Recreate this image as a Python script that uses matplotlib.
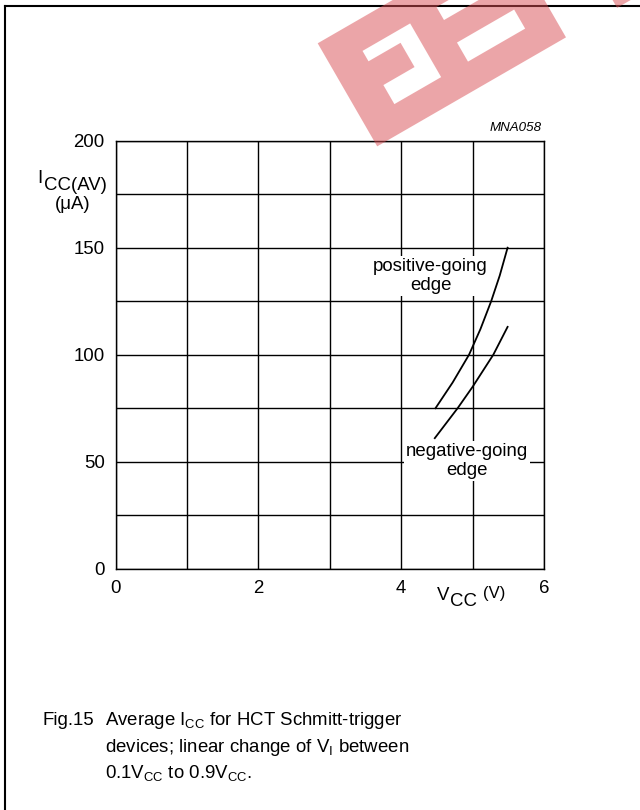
import numpy as np
import matplotlib
matplotlib.use("Agg")
import matplotlib.pyplot as plt
from matplotlib.path import Path
from matplotlib.patches import PathPatch
from matplotlib.lines import Line2D

plt.rcParams['font.family'] = ['Liberation Sans', 'DejaVu Sans']
plt.rcParams['mathtext.fontset'] = 'custom'
plt.rcParams['mathtext.rm'] = 'Liberation Sans'
plt.rcParams['mathtext.it'] = 'Liberation Sans:italic'
FS = 13.4

# supply current vs supply voltage
pos_vcc = [4.48, 4.72, 4.95, 5.11, 5.26, 5.38, 5.49]
pos_icc = [75, 87, 100, 112, 125, 137, 150]
neg_vcc = [4.47, 4.79, 5.00, 5.29, 5.49]
neg_icc = [61, 75, 85, 100, 113]

x_ticks = [0, 1, 2, 3, 4, 5, 6]
x_labels = ['0', '', '2', '', '4', '', '6']
y_ticks = [0, 25, 50, 75, 100, 125, 150, 175, 200]
y_labels = ['0', '', '50', '', '100', '', '150', '', '200']

W, H = 640, 810
fig = plt.figure(figsize=(W / 100, H / 100), dpi=100)


def px(x, y):
    return x / W, 1 - y / H


x0, y0 = px(115.7, 568.7)
x1, y1 = px(544.0, 140.7)
ax = fig.add_axes([x0, y0, x1 - x0, y1 - y0])
ax.set_xlim(0, 6)
ax.set_ylim(0, 200)
ax.set_xticks(x_ticks, x_labels, fontsize=FS)
ax.set_yticks(y_ticks, y_labels, fontsize=FS)
ax.tick_params(length=0, pad=8)
ax.tick_params(axis='y', pad=8)
ax.grid(True, color='black', lw=1.0)
for sp in ax.spines.values():
    sp.set_linewidth(1.0)

ax.plot(pos_vcc, pos_icc, color='black', lw=1.3, zorder=3)
ax.plot(neg_vcc, neg_icc, color='black', lw=1.3, zorder=3)

box = dict(facecolor='white', edgecolor='none', pad=1.5)
ax.text(4.41, 136.8, 'positive-going\nedge', ha='center', va='center',
        fontsize=FS, linespacing=1.12, bbox=box, zorder=4)
ax.text(4.92, 50.3, 'negative-going\nedge', ha='center', va='center',
        fontsize=FS, linespacing=1.12, bbox=box, zorder=4)

fig.text(*px(542, 128), 'MNA058', ha='right', va='center',
         fontsize=9.6, style='italic')

# axis titles, subscripts set at full size and dropped
fig.text(*px(37, 183), 'I', ha='left', va='baseline', fontsize=FS)
fig.text(*px(106.5, 190), 'CC(AV)', ha='right', va='baseline', fontsize=FS)
fig.text(*px(72.5, 209), '(μA)', ha='center', va='baseline', fontsize=FS)
fig.text(*px(436.5, 600), 'V', ha='left', va='baseline', fontsize=FS)
fig.text(*px(450, 606.5), 'CC', ha='left', va='baseline', fontsize=FS)
fig.text(*px(483, 598), '(V)', ha='left', va='baseline', fontsize=12)

# caption
fig.text(*px(43, 725), 'Fig.15', ha='left', va='baseline', fontsize=FS)
cap = [r'Average I$_{\mathrm{CC}}$ for HCT Schmitt-trigger',
       r'devices; linear change of V$_{\mathrm{I}}$ between',
       r'0.1V$_{\mathrm{CC}}$ to 0.9V$_{\mathrm{CC}}$.']
for k, line in enumerate(cap):
    fig.text(*px(105, 725 + 26.5 * k), line, ha='left', va='baseline',
             fontsize=FS)

# page frame (top and left edges)
fig.add_artist(Line2D([4.7 / W, 1], [1 - 6 / H, 1 - 6 / H], color='black',
                      lw=1.5, transform=fig.transFigure))
fig.add_artist(Line2D([4.7 / W, 4.7 / W], [0, 1 - 6 / H], color='black',
                      lw=1.5, transform=fig.transFigure))

# watermark logo, rotated blocks with cut-outs
org = np.array([317.7, 43.3])
u = np.array([np.cos(np.radians(30)), -np.sin(np.radians(30))])
v = np.array([np.sin(np.radians(30)), np.cos(np.radians(30))])


def ring(pts):
    out = []
    for s, t in pts:
        p = org + s * u + t * v
        out.append(px(p[0], p[1]))
    return out


rings = [
    [(0, 0), (218, 0), (218, 119), (0, 119)],
    [(35, 29), (35, 41), (72, 41), (72, 69), (36, 69), (36, 91), (90, 91), (90, 29)],
    [(121, 69), (121, 91), (187, 91), (187, 69)],
    [(121, 28), (121, 43), (210, 43), (210, 28)],
    [(277, 0), (420, 0), (420, 119), (277, 119)],
]
verts, codes = [], []
for r in rings:
    pts = ring(r)
    verts += pts + [pts[0]]
    codes += [Path.MOVETO] + [Path.LINETO] * (len(pts) - 1) + [Path.CLOSEPOLY]
logo = PathPatch(Path(verts, codes), facecolor='#d94d53', edgecolor='none',
                 alpha=0.5, transform=fig.transFigure, zorder=10)
fig.add_artist(logo)

fig.savefig('out.png', dpi=100)
